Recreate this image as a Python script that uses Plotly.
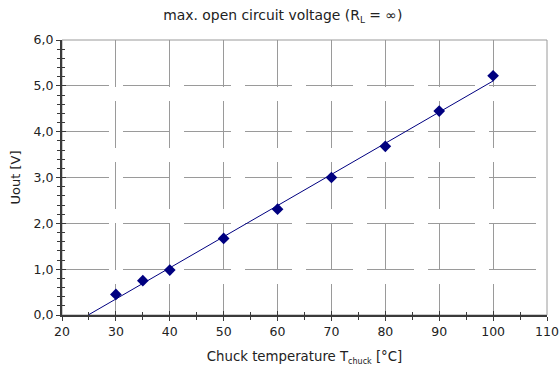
import numpy as np
import plotly.graph_objects as go

# data
temp_c = [30, 35, 40, 50, 60, 70, 80, 90, 100]
uout_v = [0.45, 0.75, 0.98, 1.67, 2.31, 3.00, 3.68, 4.45, 5.22]
trend_x_ends = [25, 100]
x_ticks = [20, 30, 40, 50, 60, 70, 80, 90, 100, 110]
y_ticks = [0, 1, 2, 3, 4, 5, 6]

slope, intercept = np.polyfit(temp_c, uout_v, 1)
trend_y = [slope * x + intercept for x in trend_x_ends]

navy = "#000080"
axis_col = "#3a3a3a"
grid_col = "#9a9a9a"
font_fam = "DejaVu Sans, Verdana, sans-serif"
fs = 12.5

fig = go.Figure()
fig.add_trace(go.Scatter(x=trend_x_ends, y=trend_y, mode="lines",
                         line=dict(color=navy, width=1), hoverinfo="skip",
                         showlegend=False))
fig.add_trace(go.Scatter(x=temp_c, y=uout_v, mode="markers",
                         marker=dict(symbol="diamond", size=9, color=navy),
                         showlegend=False))
# invisible trace to activate overlay axes (inside ticks)
fig.add_trace(go.Scatter(x=[x_ticks[0]], y=[y_ticks[0]], xaxis="x2", yaxis="y2",
                         mode="markers", marker=dict(opacity=0), showlegend=False,
                         hoverinfo="skip"))

xr = [x_ticks[0], x_ticks[-1]]
yr = [y_ticks[0], y_ticks[-1]]

fig.update_layout(
    width=560, height=369,
    margin=dict(l=62, r=13, t=40, b=54),
    paper_bgcolor="white", plot_bgcolor="white",
    separators=",.",
    font=dict(family=font_fam, size=fs, color="#222"),
    title=dict(text="max. open circuit voltage (R<sub><span style='font-size:9px'>L</span></sub> = ∞)",
               x=0.505, xanchor="center", y=0.96, yanchor="middle",
               font=dict(size=13.9, color="#222")),
    xaxis=dict(range=xr, tickvals=x_ticks, ticks="outside", ticklen=4,
               tickcolor=axis_col, tickwidth=1, automargin=False,
               minor=dict(dtick=5, ticks="outside", ticklen=3, tickcolor=axis_col,
                          showgrid=False),
               showline=True, linecolor=axis_col, linewidth=2,
               showgrid=True, gridcolor=grid_col, gridwidth=1, griddash="47px,14px",
               zeroline=False,
               title=dict(text="Chuck temperature T<sub><span style='font-size:8px'>chuck</span></sub> [°C]",
                          standoff=14, font=dict(size=13.3)),
               tickfont=dict(size=fs)),
    yaxis=dict(range=yr, tickvals=y_ticks, tickformat=".1f", ticks="outside",
               ticklen=4, tickcolor=axis_col, tickwidth=1, automargin=False,
               minor=dict(dtick=0.2, ticks="outside", ticklen=3, tickcolor=axis_col,
                          showgrid=False),
               showline=True, linecolor=axis_col, linewidth=2,
               showgrid=True, gridcolor=grid_col, gridwidth=1, griddash="47px,14px",
               zeroline=False,
               title=dict(text="Uout [V]", standoff=10, font=dict(size=13)),
               tickfont=dict(size=fs)),
    xaxis2=dict(range=xr, overlaying="x", anchor="y", side="bottom",
                tickvals=x_ticks, ticks="inside", ticklen=4, tickcolor=axis_col,
                minor=dict(dtick=5, ticks="inside", ticklen=3, tickcolor=axis_col),
                showticklabels=False, showgrid=False, zeroline=False, showline=False),
    yaxis2=dict(range=yr, overlaying="y", anchor="x", side="left",
                tickvals=y_ticks, ticks="inside", ticklen=4, tickcolor=axis_col,
                minor=dict(dtick=0.2, ticks="inside", ticklen=3, tickcolor=axis_col),
                showticklabels=False, showgrid=False, zeroline=False, showline=False),
    shapes=[dict(type="rect", xref="paper", yref="paper", x0=0, x1=1, y0=0, y1=1,
                 line=dict(color=grid_col, width=1), layer="below")],
)

fig.write_html("out.html")
